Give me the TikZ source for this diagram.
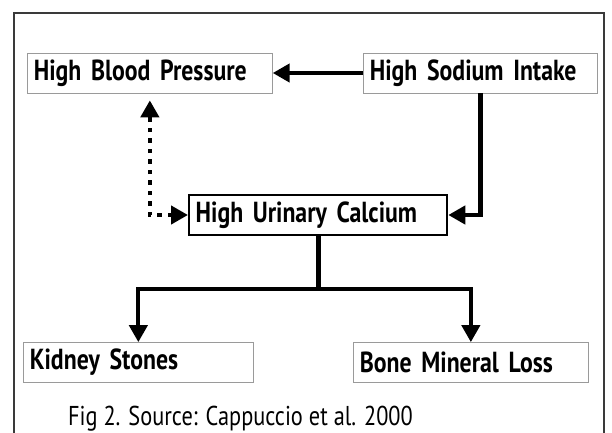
\documentclass[tikz,border=0pt]{standalone}
\usepackage{fontspec}
\setsansfont{PT Sans}
\newfontfamily\hsnarrow{PT Sans}[FakeStretch=0.82]
\usetikzlibrary{arrows.meta, calc}
\definecolor{ink}{HTML}{000000}
\definecolor{edge}{HTML}{9A9A9A}
\definecolor{frame}{HTML}{3A3A3A}
\tikzset{
  every node/.style = {font=\sffamily, text=ink},
  hsbase/.style   = {draw=edge, line width=0.8pt, fill=white, anchor=west, align=left,
                     inner xsep=0.26cm, inner ysep=0pt, minimum height=1.6cm,
                     font=\hsnarrow\bfseries\fontsize{33}{36}\selectfont},
  hskey/.style    = {hsbase, draw=ink, line width=2.6pt},
  hsgo/.style     = {-{Triangle[length=6.8mm,width=7.2mm]}, draw=ink, line width=5.2pt},
  hsmaybe/.style  = {{Triangle[length=6.8mm,width=7.2mm]}-{Triangle[length=6.8mm,width=7.2mm]},
                     draw=ink, line width=4.8pt, dash pattern=on 1.8mm off 2.4mm},
  hsframe/.style  = {draw=frame, line width=1.2pt},
  hscap/.style    = {font=\hsnarrow\fontsize{31}{34}\selectfont, anchor=base west},
}

\begin{document}
\begin{tikzpicture}
\useasboundingbox (0,0) rectangle (24.48,-17.28);
\draw[hsframe] (0.56,-0.52) rectangle (24.16,-18.0);

\node[hsbase, text width=9.28cm] (hbp)  at (1.08,-2.92)  {High Blood Pressure};
\node[hsbase, text width=8.84cm] (hsi)  at (14.52,-2.92) {High Sodium Intake};
\node[hskey,  text width=9.80cm] (huc)  at (7.52,-8.6)   {High Urinary Calcium};
\node[hsbase, text width=8.68cm] (kid)  at (0.92,-14.5)  {Kidney Stones};
\node[hsbase, text width=8.88cm] (bone) at (14.12,-14.5) {Bone Mineral Loss};

\draw[hsgo] (hsi) -- (hbp);
\draw[hsgo] (hsi.south) |- (huc.east);
\draw[hsmaybe, shorten >=0.28cm] (huc.west) -| (hbp.south);

\draw[line width=6pt] (huc.south) -- ++(0,-2.12) coordinate (split);
\foreach \b in {kid, bone}{\draw[hsgo, line width=4.6pt] (split) -| (\b.north);}

\node[hscap] (cap) at (2.6,-17.0) {Fig 2. Source: Cappuccio et al. 2000};
\end{tikzpicture}
\end{document}
